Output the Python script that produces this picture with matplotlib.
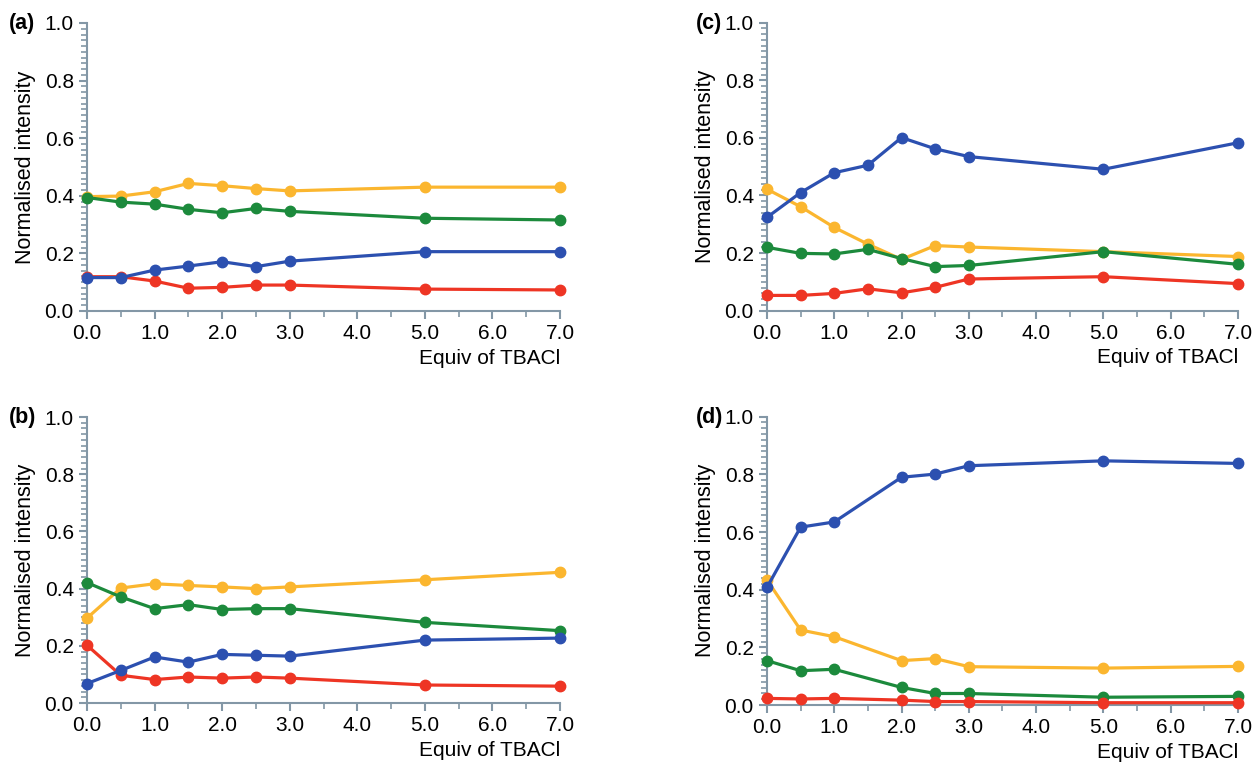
import numpy as np
import matplotlib.pyplot as plt
from matplotlib.ticker import MultipleLocator, FormatStrFormatter

plt.rcParams['font.family'] = ['Liberation Sans', 'DejaVu Sans']

# equivalents of TBACl
x_abc = [0.0, 0.5, 1.0, 1.5, 2.0, 2.5, 3.0, 5.0, 7.0]
x_d = [0.0, 0.5, 1.0, 2.0, 2.5, 3.0, 5.0, 7.0]

# panel (a)
a_yellow = [0.397, 0.399, 0.414, 0.443, 0.435, 0.425, 0.417, 0.430, 0.430]
a_green = [0.394, 0.378, 0.371, 0.353, 0.341, 0.356, 0.346, 0.322, 0.316]
a_blue = [0.116, 0.116, 0.142, 0.156, 0.171, 0.154, 0.173, 0.206, 0.206]
a_red = [0.119, 0.119, 0.104, 0.079, 0.082, 0.090, 0.090, 0.076, 0.073]

# panel (b)
b_yellow = [0.297, 0.402, 0.417, 0.411, 0.406, 0.400, 0.406, 0.431, 0.457]
b_green = [0.421, 0.371, 0.330, 0.344, 0.327, 0.330, 0.330, 0.282, 0.253]
b_blue = [0.068, 0.114, 0.161, 0.143, 0.170, 0.167, 0.164, 0.220, 0.227]
b_red = [0.202, 0.097, 0.082, 0.091, 0.087, 0.091, 0.087, 0.063, 0.059]

# panel (c)
c_yellow = [0.422, 0.361, 0.289, 0.231, 0.178, 0.226, 0.221, 0.205, 0.188]
c_green = [0.220, 0.199, 0.197, 0.213, 0.181, 0.153, 0.157, 0.205, 0.161]
c_blue = [0.324, 0.410, 0.479, 0.505, 0.601, 0.562, 0.535, 0.491, 0.583]
c_red = [0.053, 0.053, 0.060, 0.076, 0.062, 0.081, 0.110, 0.118, 0.094]

# panel (d)
d_yellow = [0.434, 0.260, 0.237, 0.154, 0.161, 0.133, 0.128, 0.134]
d_green = [0.154, 0.119, 0.124, 0.061, 0.040, 0.040, 0.027, 0.030]
d_blue = [0.408, 0.617, 0.635, 0.790, 0.801, 0.830, 0.847, 0.838]
d_red = [0.023, 0.021, 0.023, 0.017, 0.012, 0.012, 0.008, 0.008]

c_y, c_g, c_b, c_r = '#fbb62f', '#1c8a3c', '#2c50b0', '#ee3524'
axcol = '#8397a6'

# label, axes rect, label position (fig px), data
panels = [
    ('(a)', [0.0695, 0.5956, 0.3778, 0.3745], (9, 23), x_abc, a_yellow, a_green, a_blue, a_red),
    ('(b)', [0.0695, 0.0858, 0.3778, 0.3719], (9, 417), x_abc, b_yellow, b_green, b_blue, b_red),
    ('(c)', [0.6126, 0.5960, 0.3762, 0.3745], (696, 23), x_abc, c_yellow, c_green, c_blue, c_red),
    ('(d)', [0.6126, 0.0832, 0.3762, 0.3749], (696, 417), x_d, d_yellow, d_green, d_blue, d_red),
]

W, H = 1252, 769
fig = plt.figure(figsize=(W / 100, H / 100), dpi=100)

for lab, pos, lpos, x, yy, gg, bb, rr in panels:
    ax = fig.add_axes(pos)
    for vals, col in [(yy, c_y), (gg, c_g), (rr, c_r), (bb, c_b)]:
        ax.plot(x, vals, '-o', color=col, lw=2.3, ms=7.5, clip_on=False, zorder=3)
    ax.set_xlim(0, 7)
    ax.set_ylim(0, 1)
    for s in ['top', 'right']:
        ax.spines[s].set_visible(False)
    for s in ['left', 'bottom']:
        ax.spines[s].set_color(axcol)
        ax.spines[s].set_linewidth(1.5)
    ax.xaxis.set_major_locator(MultipleLocator(1))
    ax.xaxis.set_minor_locator(MultipleLocator(0.5))
    ax.yaxis.set_major_locator(MultipleLocator(0.2))
    ax.yaxis.set_minor_locator(MultipleLocator(0.02))
    ax.xaxis.set_major_formatter(FormatStrFormatter('%.1f'))
    ax.yaxis.set_major_formatter(FormatStrFormatter('%.1f'))
    ax.tick_params(which='major', length=6, width=1.5, color=axcol, labelsize=15)
    ax.tick_params(which='minor', length=4, width=1.2, color=axcol)
    ax.set_ylabel('Normalised intensity', fontsize=15.5, labelpad=6)
    ax.set_xlabel('Equiv of TBACl', fontsize=15, loc='right', labelpad=4)
    fig.text(lpos[0] / W, 1 - lpos[1] / H, lab, fontsize=15.5,
             fontweight='bold', ha='left', va='center')

fig.savefig('out.png', dpi=100)
